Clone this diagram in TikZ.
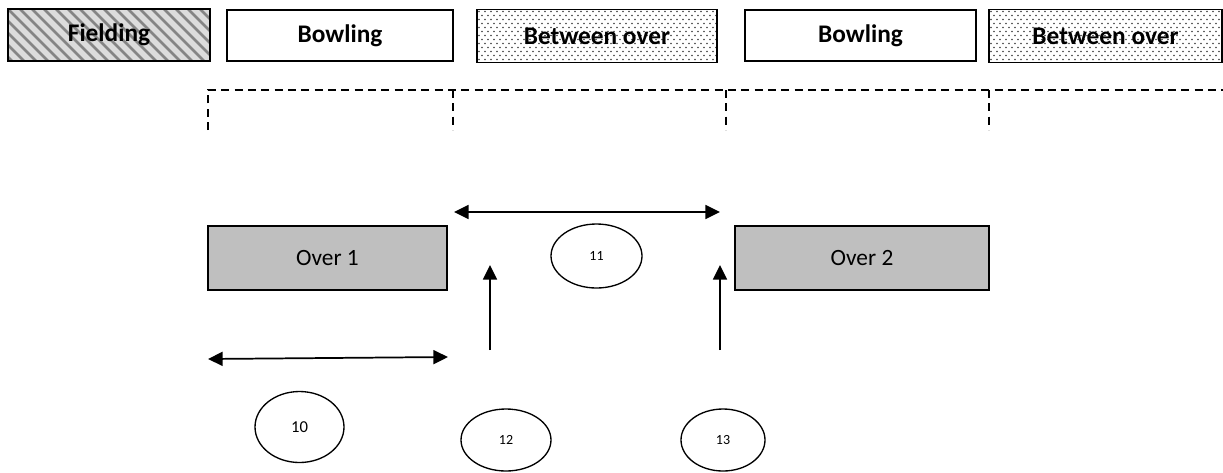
\documentclass[tikz,border=0pt]{standalone}
\usepackage{fontspec}
\setmainfont{Carlito}
\usetikzlibrary{arrows.meta,shapes.geometric}
\definecolor{stripe}{HTML}{858585}
\definecolor{stripebg}{HTML}{DCDCDC}
\definecolor{overfill}{HTML}{BFBFBF}
\definecolor{dotcol}{HTML}{404040}
\tikzset{
  topbox/.style={draw=black, line width=1pt, inner sep=0pt, font=\bfseries\fontsize{19}{22}\selectfont},
  stripebox/.style={topbox, fill=stripebg, path picture={
      \foreach \k in {-50,-41,...,170}
        \draw[stripe, line width=2.1pt] ([xshift=\k pt,yshift=5pt]path picture bounding box.north west) -- ++(50pt,-50pt);
    }},
  dotbox/.style={topbox, fill=white, path picture={
      \foreach \j in {0,...,14}{
        \pgfmathsetmacro{\off}{mod(\j,2)*2.25}
        \foreach \i in {0,...,40}
          \fill[dotcol] ([xshift=\i*4.5pt+\off pt+1.5pt,yshift=-\j*3pt-1.5pt]path picture bounding box.north west) circle[radius=0.6pt];
      }
    }},
  overbox/.style={draw=black, line width=1.4pt, fill=overfill, inner sep=0pt, font=\fontsize{17.5}{20}\selectfont},
  bubble/.style={draw=black, line width=1pt, ellipse, inner sep=0pt, font=\fontsize{10.5}{12}\selectfont},
  guide/.style={draw=black, line width=1pt, dash pattern=on 6pt off 4pt},
  dbl/.style={line width=1.3pt, {Triangle[length=11pt,width=10.5pt]}-{Triangle[length=11pt,width=10.5pt]}},
  upar/.style={line width=1.3pt, -{Triangle[length=11pt,width=10.5pt]}}
}
\begin{document}
\begin{tikzpicture}[x=0.75pt,y=-0.75pt]
\useasboundingbox (0,0) rectangle (1223,472);
% top phase boxes
\node[stripebox, minimum width=202*0.75pt, minimum height=52*0.75pt] (field) at (109,35) {Fielding};
\node[topbox, minimum width=226*0.75pt, minimum height=51*0.75pt] (bowl1) at (340,35.5) {Bowling};
\node[dotbox, minimum width=240*0.75pt, minimum height=53*0.75pt] (betw1) at (597,36) {Between over};
\node[topbox, minimum width=231*0.75pt, minimum height=51*0.75pt] (bowl2) at (860.5,35.5) {Bowling};
\node[dotbox, minimum width=233*0.75pt, minimum height=53*0.75pt] (betw2) at (1105.5,36) {Between over};
% dashed guide brackets
\coordinate (g0b) at (208,130); \coordinate (g0t) at (208,90);
\coordinate (g1b) at (453,130); \coordinate (g1t) at (453,90);
\coordinate (g2b) at (726,130); \coordinate (g2t) at (726,90);
\coordinate (g3b) at (989,130); \coordinate (g3t) at (989,90);
\coordinate (gend) at (1223,90);
\draw[guide] (g0b) -- (g0t) -- (gend);
\draw[guide] (g1t) -- (g1b);
\draw[guide] (g2t) -- (g2b);
\draw[guide] (g3t) -- (g3b);
% over boxes
\node[overbox, minimum width=239*0.75pt, minimum height=64*0.75pt] (over1) at (327.5,258) {Over 1};
\node[overbox, minimum width=254*0.75pt, minimum height=64*0.75pt] (over2) at (862,258) {Over 2};
% ellipses
\node[bubble, minimum width=91*0.75pt, minimum height=64*0.75pt] (e11) at (596.5,256) {11};
\node[bubble, minimum width=89*0.75pt, minimum height=71*0.75pt, font=\fontsize{12.5}{14}\selectfont] (e10) at (299.5,427) {10};
\node[bubble, minimum width=90*0.75pt, minimum height=62*0.75pt] (e12) at (506,440) {12};
\node[bubble, minimum width=84*0.75pt, minimum height=62*0.75pt] (e13) at (723,440) {13};
% arrows
\coordinate (a11l) at (454,212); \coordinate (a11r) at (720,212);
\draw[dbl] (a11l) -- (a11r);
\coordinate (a10l) at (208,359); \coordinate (a10r) at (448,357);
\draw[dbl] (a10l) -- (a10r);
\coordinate (u12b) at (490,350); \coordinate (u12t) at (490,265);
\draw[upar] (u12b) -- (u12t);
\coordinate (u13b) at (720,350); \coordinate (u13t) at (720,265);
\draw[upar] (u13b) -- (u13t);
\end{tikzpicture}
\end{document}
